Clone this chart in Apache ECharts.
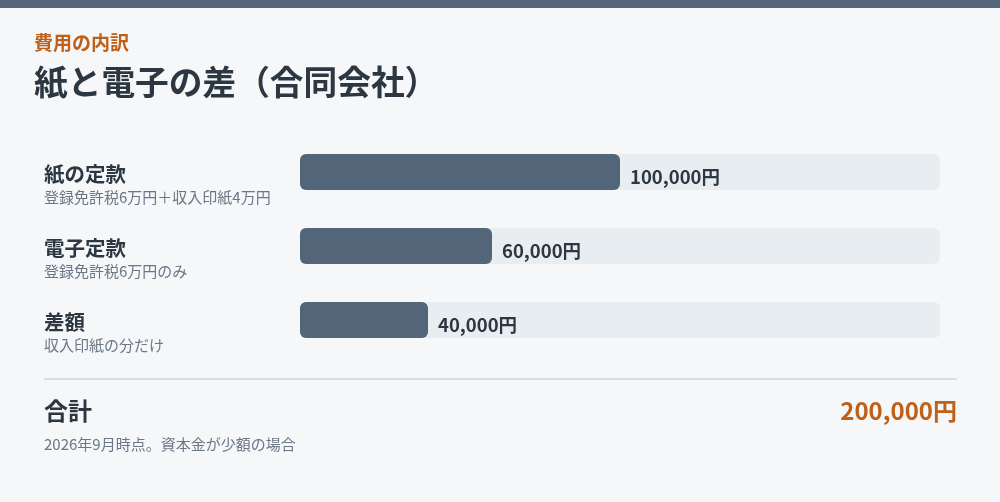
<!DOCTYPE html>
<html><head><meta charset="utf-8">
<script src="https://cdn.jsdelivr.net/npm/echarts@6/dist/echarts.min.js"></script>
<style>html,body{margin:0;padding:0;background:#f5f7f9;}#c{width:1000px;height:502px;}</style>
</head><body><div id="c"></div>
<script>
const categories = ['紙の定款', '電子定款', '差額'];
const notes = ['登録免許税6万円＋収入印紙4万円', '登録免許税6万円のみ', '収入印紙の分だけ'];
const values = [100000, 60000, 40000];
const axisMax = 200000;
const totalValue = 200000;
const eyebrow = '費用の内訳';
const heading = '紙と電子の差（合同会社）';
const totalLabel = '合計';
const footnote = '2026年9月時点。資本金が少額の場合';

const FONT = '"Noto Sans CJK JP", "Noto Sans", sans-serif';
const DARK = '#2d3741';
const MUTED = '#6b7786';
const ORANGE = '#c05f17';
const BAR = '#536579';
const fmt = v => v.toLocaleString('en-US') + '円';

const chart = echarts.init(document.getElementById('c'));
chart.setOption({
  backgroundColor: '#f5f7f9',
  textStyle: { fontFamily: FONT },
  grid: { left: 300, right: 60, top: 135, height: 222 },
  xAxis: { type: 'value', min: 0, max: axisMax, show: false },
  yAxis: {
    type: 'category', inverse: true, data: categories,
    axisLine: { show: false }, axisTick: { show: false }, splitLine: { show: false },
    axisLabel: {
      align: 'left', margin: 256, padding: [24, 0, 0, 0],
      formatter: (v, i) => '{t|' + v + '}\n{s|' + notes[i] + '}',
      rich: {
        t: { fontSize: 20.5, fontWeight: 'bold', color: DARK, lineHeight: 26, fontFamily: FONT },
        s: { fontSize: 15, color: MUTED, lineHeight: 20, fontFamily: FONT }
      }
    }
  },
  series: [{
    type: 'bar', data: values, barWidth: 36,
    itemStyle: { color: BAR, borderRadius: 6 },
    showBackground: true,
    backgroundStyle: { color: '#e8edf2', borderRadius: 6 },
    label: {
      show: true, position: 'right', distance: 10, offset: [0, 5],
      formatter: p => fmt(p.value),
      fontSize: 18.5, fontWeight: 'bold', color: DARK, fontFamily: FONT
    }
  }],
  graphic: [
    { type: 'rect', shape: { x: 0, y: 0, width: 1000, height: 8 }, style: { fill: BAR } },
    { type: 'text', left: 34, top: 33, style: { text: eyebrow, fontSize: 19, fontWeight: 'bold', fill: ORANGE, fontFamily: FONT } },
    { type: 'text', left: 34, top: 65, style: { text: heading, fontSize: 33.7, fontWeight: 'bold', fill: DARK, fontFamily: FONT } },
    { type: 'rect', shape: { x: 44, y: 378, width: 913, height: 2 }, style: { fill: '#d8dfe6' } },
    { type: 'text', left: 44, top: 399, style: { text: totalLabel, fontSize: 24, fontWeight: 'bold', fill: DARK, fontFamily: FONT } },
    { type: 'text', right: 43, top: 399, style: { text: fmt(totalValue), fontSize: 24, fontWeight: 'bold', fill: ORANGE, fontFamily: FONT } },
    { type: 'text', left: 44, top: 437, style: { text: footnote, fontSize: 15, fill: MUTED, fontFamily: FONT } }
  ]
});
</script></body></html>
